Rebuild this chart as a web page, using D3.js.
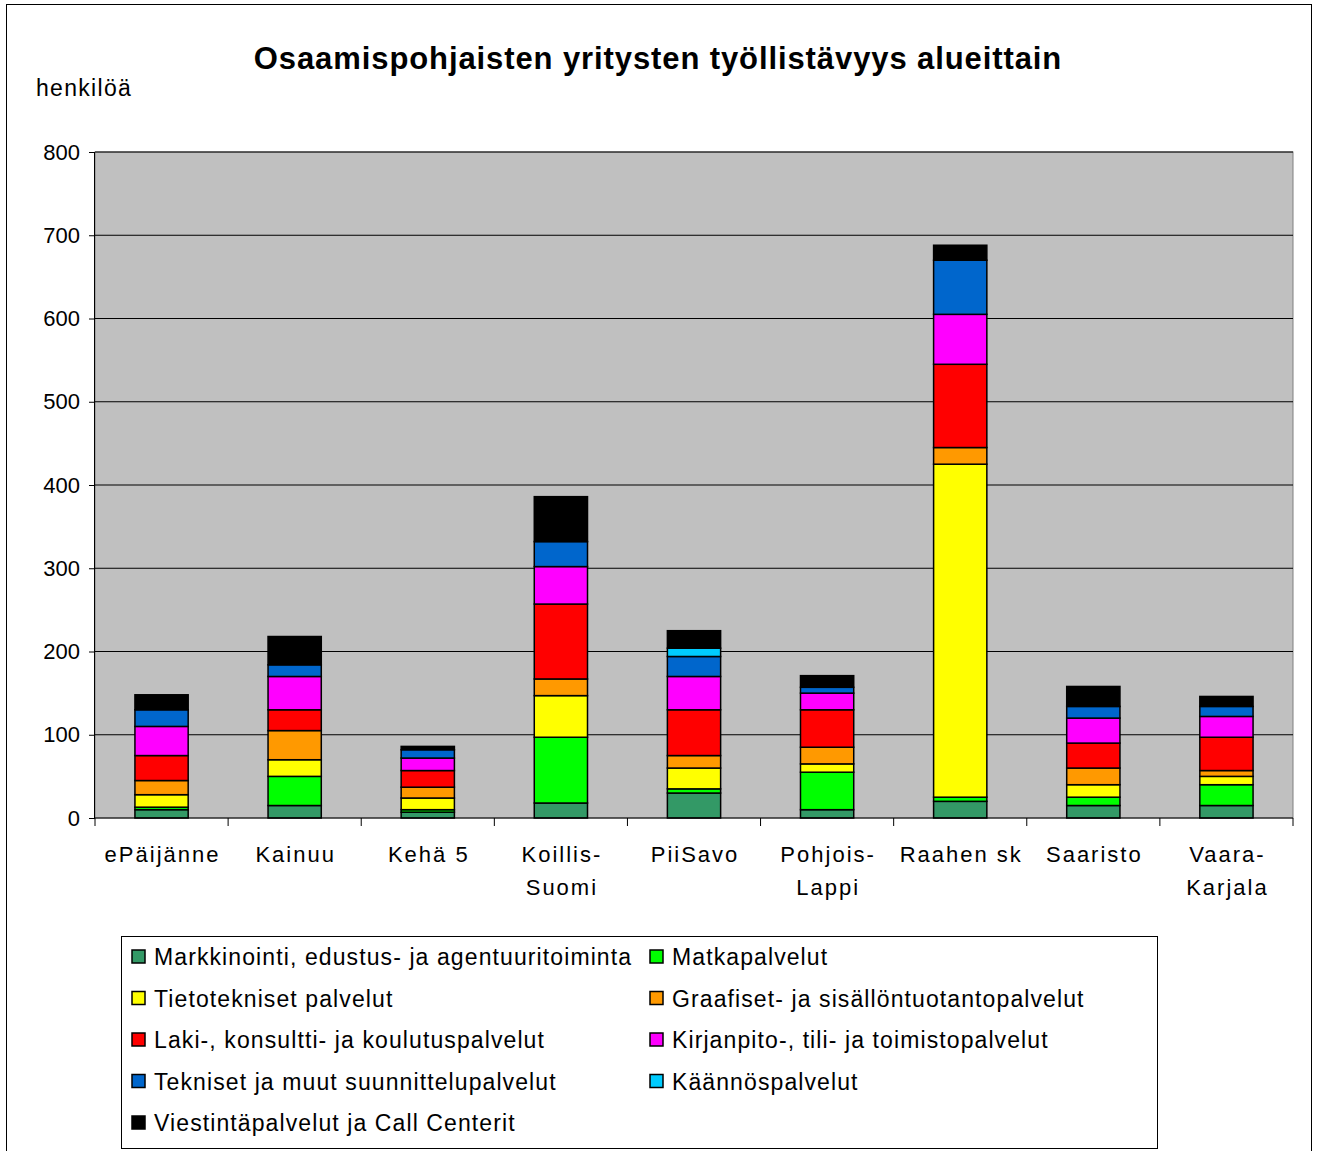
<!DOCTYPE html>
<html><head><meta charset="utf-8">
<script src="https://cdn.jsdelivr.net/npm/d3@7"></script>
<style>body{margin:0;background:#fff;}svg{display:block;font-family:Arial,"Liberation Sans",sans-serif;}</style>
</head><body>
<svg id="c" width="1318" height="1151"></svg>
<script>
const categories = [["ePäijänne"],["Kainuu"],["Kehä 5"],["Koillis-","Suomi"],["PiiSavo"],["Pohjois-","Lappi"],["Raahen sk"],["Saaristo"],["Vaara-","Karjala"]];
const seriesNames = ["Markkinointi, edustus- ja agentuuritoiminta","Matkapalvelut","Tietotekniset palvelut","Graafiset- ja sisällöntuotantopalvelut","Laki-, konsultti- ja koulutuspalvelut","Kirjanpito-, tili- ja toimistopalvelut","Tekniset ja muut suunnittelupalvelut","Käännöspalvelut","Viestintäpalvelut ja Call Centerit"];
const seriesColors = ["#339966","#00FF00","#FFFF00","#FF9900","#FF0000","#FF00FF","#0066CC","#00CCFF","#000000"];
const markkinointi = [10,15,7,18,30,10,20,15,15];
const matka        = [3,35,3,79,5,45,5,10,25];
const tieto        = [15,20,14,50,25,10,400,15,10];
const graafiset    = [17,35,13,20,15,20,20,20,7];
const laki         = [30,25,20,90,55,45,100,30,40];
const kirjanpito   = [35,40,15,45,40,20,60,30,25];
const tekniset     = [20,14,10,30,24,7,65,14,12];
const kaannos      = [0,0,0,0,10,0,0,0,0];
const viestinta    = [18,34,4,54,21,14,18,24,12];
const yTicks = [0,100,200,300,400,500,600,700,800];

const seriesValues = [markkinointi,matka,tieto,graafiset,laki,kirjanpito,tekniset,kaannos,viestinta];
const svg = d3.select("#c");
svg.append("rect").attr("x",6.5).attr("y",4.5).attr("width",1305).attr("height",1160).attr("fill","none").attr("stroke","#000").attr("stroke-width",1);

const L=95,R=1293,T=152,B=818;
const x = d3.scaleBand().domain(d3.range(categories.length)).range([L,R]).paddingInner(0.6).paddingOuter(0.3);
const xb = d3.scaleBand().domain(d3.range(categories.length)).range([L,R]);
const y = d3.scaleLinear().domain([0,800]).range([B,T]);

svg.append("rect").attr("x",L).attr("y",T).attr("width",R-L).attr("height",B-T).attr("fill","#C0C0C0").attr("stroke","#808080");
const g = svg.append("g");
g.selectAll("line.grid").data(yTicks.slice(1)).join("line").attr("class","grid")
 .attr("x1",L).attr("x2",R).attr("y1",d=>y(d)).attr("y2",d=>y(d)).attr("stroke","#000").attr("stroke-width",1);

const rows = categories.map((c,i)=>{const o={i}; seriesValues.forEach((s,k)=>o["s"+k]=s[i]); return o;});
const stack = d3.stack().keys(seriesValues.map((s,k)=>"s"+k))(rows);
stack.forEach((layer,k)=>{
  g.selectAll("rect.s"+k).data(layer.filter(d=>d[1]-d[0]>0)).join("rect").attr("class","s"+k)
   .attr("x",d=>x(d.data.i)).attr("width",x.bandwidth())
   .attr("y",d=>y(d[1])).attr("height",d=>y(d[0])-y(d[1]))
   .attr("fill",seriesColors[k]).attr("stroke","#000").attr("stroke-width",1.5);
});

const ya = svg.append("g").attr("transform",`translate(${L},0)`).call(d3.axisLeft(y).tickValues(yTicks).tickSize(6).tickPadding(9));
ya.select(".domain").attr("stroke","#000").attr("d",`M-0.5,${T}V${B}`);
ya.selectAll("text").attr("font-size",22).attr("font-family","Arial, Liberation Sans").attr("fill","#000");
ya.selectAll("line").attr("stroke","#000");

const xa = svg.append("g").attr("transform",`translate(0,${B})`);
xa.append("line").attr("x1",L).attr("x2",R).attr("stroke","#000");
xa.selectAll("line.t").data(d3.range(categories.length+1)).join("line").attr("class","t")
 .attr("x1",d=>L+d*xb.step()).attr("x2",d=>L+d*xb.step()).attr("y1",0).attr("y2",8).attr("stroke","#000");
categories.forEach((c,i)=>{
  const t = xa.append("text").attr("text-anchor","middle").attr("font-size",22).attr("letter-spacing",2).attr("fill","#000");
  c.forEach((line,j)=>t.append("tspan").attr("x",xb(i)+xb.bandwidth()/2+1).attr("y",44+j*33).text(line));
});

svg.append("text").attr("x",658).attr("y",69).attr("text-anchor","middle").attr("font-size",31).attr("letter-spacing",0.9).attr("font-weight","bold").text("Osaamispohjaisten yritysten työllistävyys alueittain");
svg.append("text").attr("x",36).attr("y",96).attr("font-size",23).attr("letter-spacing",1.3).text("henkilöä");

svg.append("rect").attr("x",121.5).attr("y",936.5).attr("width",1036).attr("height",212).attr("fill","#fff").attr("stroke","#000");
seriesNames.forEach((n,k)=>{
  const col=k%2, row=Math.floor(k/2);
  const sx = col===0?132:650, ty = 957+row*41.5;
  svg.append("rect").attr("x",sx).attr("y",ty-7).attr("width",13).attr("height",13).attr("fill",seriesColors[k]).attr("stroke","#000").attr("stroke-width",1.5);
  svg.append("text").attr("x",sx+22).attr("y",ty+8).attr("font-size",23).attr("letter-spacing",1.1).text(n);
});
</script>
</body></html>
